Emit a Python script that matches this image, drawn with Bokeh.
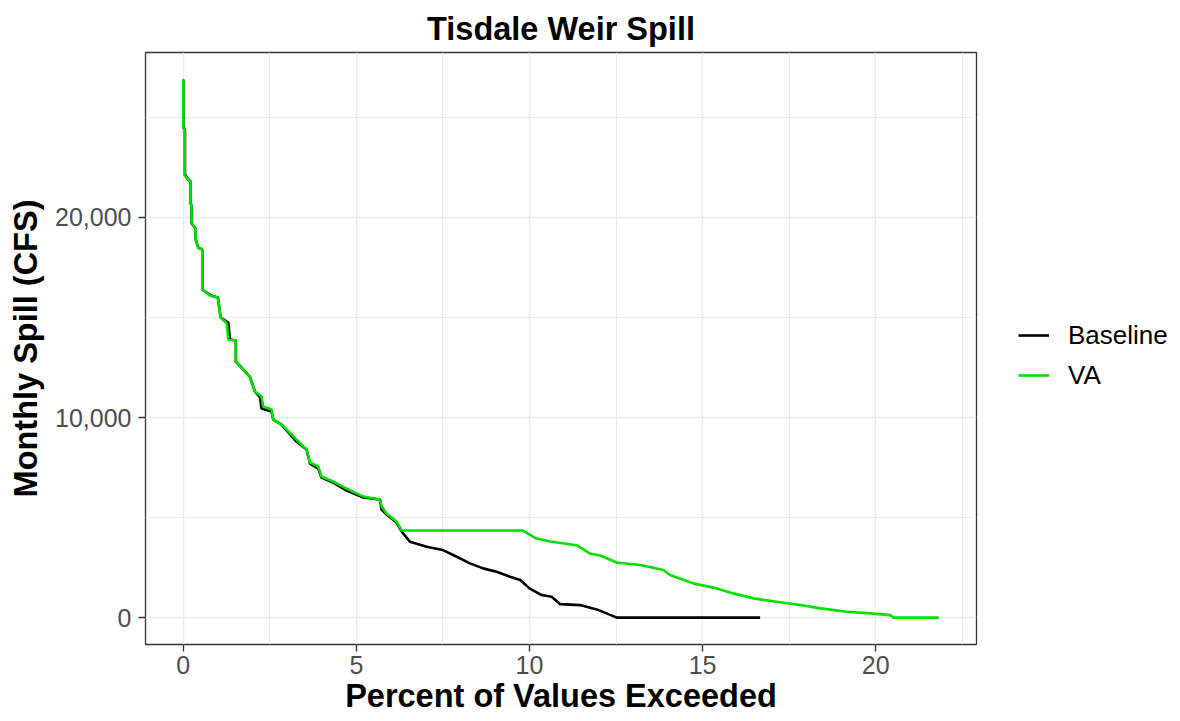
from bokeh.plotting import figure
from bokeh.embed import file_html
from bokeh.resources import INLINE
from bokeh.layouts import row
from bokeh.models import (ColumnDataSource, FixedTicker, NumeralTickFormatter,
                          Range1d, Legend, LegendItem)

# ---- data ----
va_x = [0.00, 0.00, 0.04, 0.04, 0.14, 0.21, 0.21, 0.24, 0.24, 0.33, 0.36, 0.36,
        0.43, 0.55, 0.55, 0.77, 1.00, 1.08, 1.26, 1.30, 1.52, 1.52, 1.92, 2.07,
        2.26, 2.31, 2.55, 2.60, 2.84, 3.27, 3.56, 3.66, 3.90, 3.99, 4.33, 4.72,
        5.20, 5.68, 5.73, 5.87, 6.16, 6.31, 9.81, 10.20, 10.60, 11.36, 11.75,
        12.04, 12.52, 13.24, 13.87, 14.06, 14.73, 15.41, 15.89, 16.47, 17.14,
        17.82, 18.40, 19.17, 19.84, 20.42, 20.51, 21.82]
va_y = [26900, 24500, 24400, 22100, 21900, 21800, 20700, 20600, 19700, 19500,
        19400, 18900, 18500, 18400, 16400, 16100, 16000, 15000, 14700, 13900,
        13850, 12800, 12050, 11300, 11050, 10550, 10400, 9900, 9650, 8900, 8400,
        7750, 7550, 7050, 6800, 6450, 6050, 5900, 5550, 5200, 4800, 4350, 4350,
        3950, 3800, 3620, 3200, 3100, 2750, 2620, 2380, 2130, 1710, 1460, 1210,
        960, 790, 625, 460, 290, 210, 125, 0, 0]

base_x = [0.00, 0.00, 0.05, 0.05, 0.15, 0.21, 0.21, 0.24, 0.24, 0.33, 0.36, 0.36,
          0.43, 0.55, 0.55, 0.80, 1.00, 1.08, 1.30, 1.35, 1.52, 1.52, 1.92, 2.07,
          2.22, 2.26, 2.55, 2.60, 2.84, 3.27, 3.56, 3.66, 3.90, 3.99, 4.33, 4.72,
          5.20, 5.68, 5.73, 5.87, 6.16, 6.31, 6.35, 6.55, 7.03, 7.50, 7.90, 8.28,
          8.66, 9.05, 9.44, 9.73, 10.00, 10.35, 10.64, 10.88, 11.46, 11.94,
          12.42, 12.52, 16.66]
base_y = [26900, 24500, 24400, 22150, 21900, 21800, 20700, 20600, 19700, 19500,
          19400, 18900, 18500, 18400, 16400, 16100, 16000, 15000, 14750, 13900,
          13850, 12800, 12050, 11300, 11000, 10450, 10300, 9900, 9650, 8800, 8400,
          7700, 7450, 7000, 6750, 6350, 6000, 5900, 5400, 5150, 4750, 4300, 4210,
          3790, 3540, 3375, 3040, 2710, 2460, 2290, 2040, 1875, 1460, 1125, 1040,
          675, 625, 410, 75, 0, 0]

series_names = ["Baseline", "VA"]
x_ticks = [0, 5, 10, 15, 20]
x_minor = [2.5, 7.5, 12.5, 17.5, 22.5]
y_ticks = [0, 10000, 20000]
y_minor = [5000, 15000, 25000]

TXT = "Liberation Sans"
GREEN = "#00E000"
BIG = "32.5px"

p = figure(width=980, height=721, output_backend="svg", toolbar_location=None,
           x_range=Range1d(-1.09, 22.91), y_range=Range1d(-1345, 28245),
           min_border_left=145, min_border_right=4, min_border_top=52,
           min_border_bottom=77, background_fill_color="white",
           border_fill_color="white", outline_line_color="#333333",
           outline_line_width=1.3)

p.title.text = "Tisdale Weir Spill"
p.title.text_font = TXT
p.title.text_font_style = "bold"
p.title.text_font_size = BIG
p.title.text_color = "black"
p.title.align = "center"
p.title.standoff = 12

# grids
p.xgrid.ticker = FixedTicker(ticks=x_ticks, minor_ticks=x_minor)
p.ygrid.ticker = FixedTicker(ticks=y_ticks, minor_ticks=y_minor)
for g in (p.xgrid, p.ygrid):
    g.grid_line_color = "#EBEBEB"
    g.grid_line_width = 1.4
    g.minor_grid_line_color = "#EBEBEB"
    g.minor_grid_line_width = 1.0

# axes
p.xaxis.ticker = FixedTicker(ticks=x_ticks)
p.yaxis.ticker = FixedTicker(ticks=y_ticks)
p.yaxis.formatter = NumeralTickFormatter(format="0,0")
p.xaxis.axis_label = "Percent of Values Exceeded"
p.yaxis.axis_label = "Monthly Spill (CFS)"
for ax in (p.xaxis, p.yaxis):
    ax.axis_line_color = None
    ax.major_tick_line_color = "#333333"
    ax.major_tick_line_width = 1.3
    ax.major_tick_out = 7
    ax.major_tick_in = 0
    ax.minor_tick_line_color = None
    ax.major_label_text_font = TXT
    ax.major_label_text_font_size = "25px"
    ax.major_label_text_color = "#4D4D4D"
    ax.axis_label_text_font = TXT
    ax.axis_label_text_font_style = "bold"
    ax.axis_label_text_font_size = BIG
    ax.axis_label_text_color = "black"
p.xaxis.major_label_standoff = 4
p.xaxis.axis_label_standoff = 1
p.yaxis.major_label_standoff = 7
p.yaxis.axis_label_standoff = 8

src_b = ColumnDataSource(dict(x=base_x, y=base_y))
src_v = ColumnDataSource(dict(x=va_x, y=va_y))
p.line("x", "y", source=src_b, line_color="black", line_width=2.6)
p.line("x", "y", source=src_v, line_color=GREEN, line_width=2.6)

# ---- legend panel (separate canvas to the right of the plot) ----
lg = figure(width=200, height=721, output_backend="svg", toolbar_location=None,
            x_range=Range1d(0, 1), y_range=Range1d(0, 1),
            min_border=0, outline_line_color=None,
            background_fill_color="white", border_fill_color="white")
lg.axis.visible = False
lg.grid.visible = False
NAN = float("nan")
kb = lg.line(x=[NAN], y=[NAN], line_color="black", line_width=2.6)
kv = lg.line(x=[NAN], y=[NAN], line_color=GREEN, line_width=2.6)

legend = Legend(items=[LegendItem(label=series_names[0], renderers=[kb]),
                       LegendItem(label=series_names[1], renderers=[kv])],
                location=(38, 249), orientation="vertical")
legend.border_line_color = None
legend.background_fill_alpha = 0
legend.label_text_font = TXT
legend.label_text_font_size = "26px"
legend.label_text_color = "black"
legend.glyph_width = 31
legend.glyph_height = 40
legend.label_height = 40
legend.label_standoff = 19
legend.spacing = 0
legend.padding = 0
legend.margin = 0
lg.add_layout(legend, "center")

layout = row(p, lg)
open("out.html", "w").write(file_html(layout, INLINE))
